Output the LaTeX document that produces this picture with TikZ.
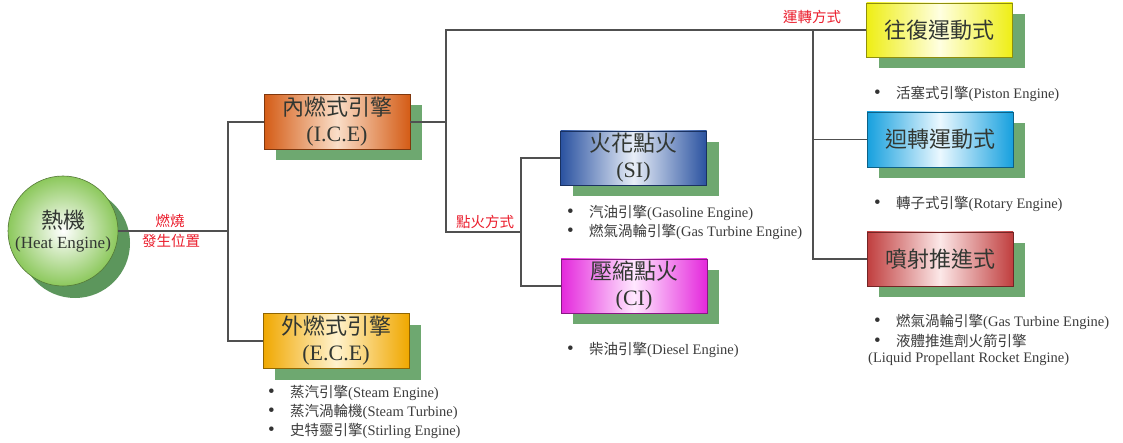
\documentclass[tikz,border=0pt]{standalone}
\usepackage{fontspec}
\setmainfont{Liberation Serif}
\newfontfamily\cjk{Noto Sans CJK TC}
\usetikzlibrary{shadows}
\definecolor{shgreen}{RGB}{110,168,112}
\definecolor{circshadow}{RGB}{92,150,92}
\definecolor{linegray}{RGB}{80,80,80}
\definecolor{lblred}{RGB}{235,30,45}
\definecolor{txtdark}{RGB}{50,55,50}
\definecolor{bultxt}{RGB}{60,60,60}
\definecolor{iceC}{RGB}{212,92,22}
\definecolor{iceM}{RGB}{250,222,200}
\definecolor{eceC}{RGB}{240,168,0}
\definecolor{eceM}{RGB}{255,242,205}
\definecolor{siC}{RGB}{42,82,160}
\definecolor{siM}{RGB}{232,238,248}
\definecolor{ciC}{RGB}{228,40,220}
\definecolor{ciM}{RGB}{255,232,255}
\definecolor{reC}{RGB}{238,238,20}
\definecolor{reM}{RGB}{255,255,225}
\definecolor{roC}{RGB}{22,160,222}
\definecolor{roM}{RGB}{235,248,255}
\definecolor{jeC}{RGB}{192,62,62}
\definecolor{jeM}{RGB}{252,232,232}
\definecolor{circC}{RGB}{140,200,92}
\begin{document}
\begin{tikzpicture}[x=1pt,y=-1pt,
  box/.style={rectangle,minimum width=146pt,minimum height=55pt,inner sep=0pt,
    align=center,text=txtdark,draw=#1C!60!black,line width=0.6pt,
    left color=#1C,right color=#1C,middle color=#1M,
    font=\fontsize{22}{26}\selectfont,
    drop shadow={shadow xshift=12pt,shadow yshift=-11pt,fill=shgreen,opacity=1}},
  conn/.style={draw=linegray,line width=1.1pt},
  lbl/.style={text=lblred,font=\cjk\fontsize{14.5}{19}\selectfont,inner sep=0pt,align=center},
  bul/.style={anchor=west,inner sep=0pt,text=bultxt,font=\fontsize{14.5}{18}\selectfont}
]
\useasboundingbox[fill=white] (0,0) rectangle (1123,443);

% circle
\node[circle,minimum size=110pt,inner sep=0pt,draw=circC!60!black,line width=0.6pt,
  inner color=white,outer color=circC,align=center,text=txtdark,
  drop shadow={shadow xshift=12pt,shadow yshift=-12pt,fill=circshadow,opacity=1}]
  (heat) at (63,231) {{\cjk\fontsize{22}{26}\selectfont 熱機}\\[6pt]{\fontsize{17}{20}\selectfont (Heat Engine)}};

% boxes
\node[box=ice] (ice) at (337,122) {{\cjk 內燃式引擎}\\(I.C.E)};
\node[box=ece] (ece) at (336,341) {{\cjk 外燃式引擎}\\(E.C.E)};
\node[box=si,minimum height=54pt] (si) at (633.5,158) {{\cjk 火花點火}\\(SI)};
\node[box=ci,minimum height=54pt] (ci) at (634,286) {{\cjk 壓縮點火}\\(CI)};
\node[box=re,minimum height=54pt,font=\cjk\fontsize{22}{25}\selectfont] (re) at (939.5,30) {往復運動式};
\node[box=ro,font=\cjk\fontsize{22}{25}\selectfont] (ro) at (940,139.5) {迴轉運動式};
\node[box=je,minimum height=54pt,font=\cjk\fontsize{22}{25}\selectfont] (je) at (940,259) {噴射推進式};

% junctions
\coordinate (ja) at (228,231);
\coordinate (jb) at (446,232);
\coordinate (jc) at (521,232);
\coordinate (jd) at (813,30);

% connectors
\draw[conn] (heat.east) -- (ja);
\draw[conn] (ice.west) -| (ja) |- (ece.west);
\draw[conn] (ice.east) -- (ice.east -| jb);
\draw[conn] (re.west) -| (jb) -- (jc);
\draw[conn] (si.west) -| (jc) |- (ci.west);
\draw[conn] (jd) |- (ro.west);
\draw[conn] (jd) |- (je.west);

% labels
\node[lbl] (l1) at (170,221) {燃燒};
\node[lbl] (l2) at (171,241) {發生位置};
\node[lbl] (l3) at (485,222) {點火方式};
\node[lbl] (l4) at (812,17) {運轉方式};

% bullets
\newcommand{\bl}{\makebox[22pt][l]{\textcolor{black!80}{\fontsize{19}{18}\selectfont •}}}
\node[bul] (b1) at (268,393) {\bl{\cjk 蒸汽引擎}(Steam Engine)};
\node[bul] (b2) at (268,412) {\bl{\cjk 蒸汽渦輪機}(Steam Turbine)};
\node[bul] (b3) at (268,431) {\bl{\cjk 史特靈引擎}(Stirling Engine)};
\node[bul] (b4) at (567,213) {\bl{\cjk 汽油引擎}(Gasoline Engine)};
\node[bul] (b5) at (567,232) {\bl{\cjk 燃氣渦輪引擎}(Gas Turbine Engine)};
\node[bul] (b6) at (567,350) {\bl{\cjk 柴油引擎}(Diesel Engine)};
\node[bul] (b7) at (874,94) {\bl{\cjk 活塞式引擎}(Piston Engine)};
\node[bul] (b8) at (874,204) {\bl{\cjk 轉子式引擎}(Rotary Engine)};
\node[bul] (b9) at (874,322) {\bl{\cjk 燃氣渦輪引擎}(Gas Turbine Engine)};
\node[bul] (b10) at (874,341) {\bl{\cjk 液體推進劑火箭引擎}};
\node[bul] (b11) at (868,359) {(Liquid Propellant Rocket Engine)};
\end{tikzpicture}
\end{document}
